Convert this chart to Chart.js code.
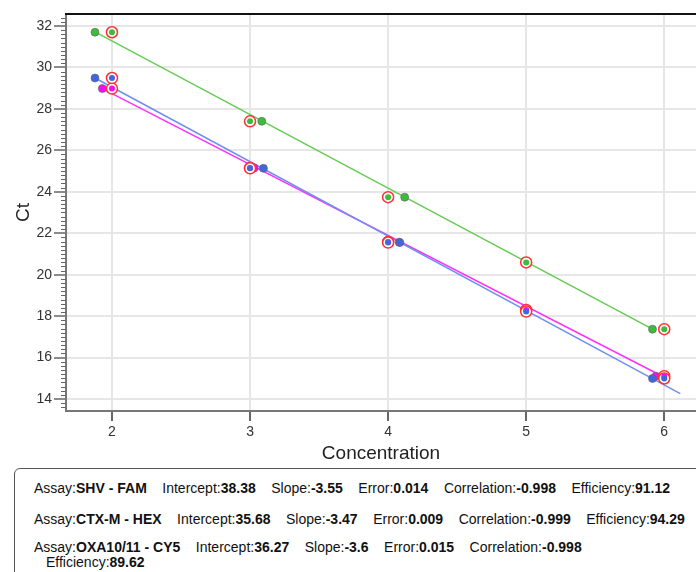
<!DOCTYPE html>
<html>
<head>
<meta charset="utf-8">
<script src="https://cdn.jsdelivr.net/npm/chart.js@4.4.1/dist/chart.umd.min.js"></script>
<style>
  body { margin: 0; background: #fff; font-family: "Liberation Sans", Arial, sans-serif; }
  #wrap { position: relative; width: 696px; height: 572px; overflow: hidden; }
  #chartCurve { position: absolute; left: 0; top: 0; }
  #stats {
    position: absolute; left: 14px; top: 468px; width: 720px; height: 140px;
    border: 1px solid #555; border-top-left-radius: 6px; box-sizing: border-box;
    font-size: 14px; line-height: 16px; color: #111; padding: 11px 0 0 19px;
  }
  #stats .row { white-space: nowrap; }
  #stats .r1 { height: 31px; }
  #stats .r2 { height: 28px; }
  #stats .r3 { height: 15px; }
  #stats span { margin-right: 15.5px; }
  #stats b { font-weight: bold; }
  #stats .indent { padding-left: 12px; }
</style>
</head>
<body>
<div id="wrap">
  <canvas id="chartCurve" width="696" height="466"></canvas>
  <div id="stats">
    <div class="row r1"><span>Assay:<b>SHV - FAM</b></span><span>Intercept:<b>38.38</b></span><span>Slope:<b>-3.55</b></span><span>Error:<b>0.014</b></span><span>Correlation:<b>-0.998</b></span><span>Efficiency:<b>91.12</b></span></div>
    <div class="row r2"><span>Assay:<b>CTX-M - HEX</b></span><span>Intercept:<b>35.68</b></span><span>Slope:<b>-3.47</b></span><span>Error:<b>0.009</b></span><span>Correlation:<b>-0.999</b></span><span>Efficiency:<b>94.29</b></span></div>
    <div class="row r3"><span>Assay:<b>OXA10/11 - CY5</b></span><span>Intercept:<b>36.27</b></span><span>Slope:<b>-3.6</b></span><span>Error:<b>0.015</b></span><span>Correlation:<b>-0.998</b></span></div>
    <div class="row indent"><span>Efficiency:<b>89.62</b></span></div>
  </div>
</div>
<script>
// standard concentrations (log) - these carry the red ring
const standards = [2, 3, 4, 5, 6];

// SHV - FAM (green)
const shvRingCt = [31.70, 27.40, 23.74, 20.59, 17.37];
const shvConc = [1.877, 3.085, 4.12, 5.0, 5.915];
const shvCt = [31.70, 27.40, 23.74, 20.59, 17.37];
const shvFitX = [1.877, 5.915];
const shvFitY = [31.72, 17.37];

// CTX-M - HEX (magenta)
const ctxRingCt = [28.98, 25.15, 21.58, 18.30, 15.10];
const ctxConc = [1.93, 3.03, 4.08, 5.0, 5.94];
const ctxCt = [28.98, 25.15, 21.57, 18.30, 15.10];
const ctxFitX = [1.93, 6.0];
const ctxFitY = [28.98, 15.05];

// OXA10/11 - CY5 (blue)
const oxaRingCt = [29.49, 25.13, 21.55, 18.22, 14.99];
const oxaConc = [1.877, 3.097, 4.085, 5.0, 5.915];
const oxaCt = [29.49, 25.13, 21.55, 18.22, 14.99];
const oxaFitX = [1.877, 6.116];
const oxaFitY = [29.49, 14.26];

const GREEN = "#3dbb3d";
const MAGENTA = "#f010f0";
const BLUE = "#4466dd";

const pts = (xs, ys) => xs.map((x, i) => ({ x: x, y: ys[i] }));

function fitLine(xs, ys, color) {
  return {
    data: pts(xs, ys),
    showLine: true,
    borderColor: color,
    borderWidth: 1.5,
    pointRadius: 0,
    order: 4,
  };
}

function samples(xs, ys, color) {
  return {
    data: pts(xs, ys),
    backgroundColor: color,
    borderColor: "rgba(100,100,100,0.6)",
    borderWidth: 1,
    pointRadius: 4,
    order: 3,
  };
}

function rings(ys) {
  return {
    data: pts(standards, ys),
    backgroundColor: "#ffffff",
    borderColor: "#ff3030",
    borderWidth: 1.5,
    pointRadius: 5.5,
    order: 2,
  };
}

function dots(ys, color) {
  return {
    data: pts(standards, ys),
    backgroundColor: color,
    borderWidth: 0,
    pointRadius: 3,
    order: 1,
  };
}

// minor ticks on the y axis + the black top border of the plot
const axisExtras = {
  id: "axisExtras",
  afterDraw(chart) {
    const { ctx, chartArea } = chart;
    const y = chart.scales.y;
    ctx.save();
    ctx.strokeStyle = "#666";
    ctx.lineWidth = 1;
    for (let v = 136; v <= 324; v += 2) {
      if (v % 20 === 0) continue;
      const py = Math.round(y.getPixelForValue(v / 10)) + 0.5;
      ctx.beginPath();
      ctx.moveTo(chartArea.left - 5, py);
      ctx.lineTo(chartArea.left, py);
      ctx.stroke();
    }
    ctx.strokeStyle = "#111";
    ctx.lineWidth = 2;
    ctx.beginPath();
    ctx.moveTo(chartArea.left - 1, chartArea.top);
    ctx.lineTo(chartArea.right, chartArea.top);
    ctx.stroke();
    ctx.restore();
  },
};

const tickFont = { family: "'Liberation Sans', Arial, sans-serif", size: 14 };
const titleFont = { family: "'Liberation Sans', Arial, sans-serif", size: 19 };

// within the same order, earlier datasets are painted on top
new Chart(document.getElementById("chartCurve"), {
  type: "scatter",
  data: {
    datasets: [
      fitLine(shvFitX, shvFitY, "#66cc55"),
      fitLine(oxaFitX, oxaFitY, "#6f8ff0"),
      fitLine(ctxFitX, ctxFitY, "#ff30ff"),
      samples(shvConc, shvCt, GREEN),
      samples(oxaConc, oxaCt, BLUE),
      samples(ctxConc, ctxCt, MAGENTA),
      rings(shvRingCt),
      rings(oxaRingCt),
      rings(ctxRingCt),
      dots(shvRingCt, GREEN),
      dots(oxaRingCt, BLUE),
      dots(ctxRingCt, MAGENTA),
    ],
  },
  options: {
    responsive: false,
    animation: false,
    layout: { autoPadding: false, padding: { top: 14, left: 0, right: 0, bottom: 0 } },
    plugins: {
      legend: { display: false },
      tooltip: { enabled: false },
    },
    scales: {
      x: {
        type: "linear",
        min: 1.667,
        max: 6.23,
        afterFit: (scale) => {
          scale.height = 55;
          scale.paddingLeft = 0;
          scale.paddingRight = 0;
        },
        ticks: { stepSize: 1, includeBounds: false, font: tickFont, color: "#333", padding: 3 },
        grid: { color: "#e6e6e6", lineWidth: 2, tickColor: "#666", tickLength: 10, tickWidth: 2 },
        border: { color: "#777", width: 2 },
        title: { display: true, text: "Concentration", font: titleFont, color: "#222", padding: { top: 0, bottom: 1 } },
      },
      y: {
        min: 13.42,
        max: 32.58,
        afterFit: (scale) => { scale.width = 66; },
        ticks: { stepSize: 2, includeBounds: false, font: tickFont, color: "#333", padding: 2 },
        grid: { color: "#e6e6e6", lineWidth: 2, tickColor: "#666", tickLength: 12, tickWidth: 1.5 },
        border: { color: "#777", width: 2 },
        title: { display: true, text: "Ct", font: titleFont, color: "#222", padding: { top: 12, bottom: 0 } },
      },
    },
  },
  plugins: [axisExtras],
});
</script>
</body>
</html>
